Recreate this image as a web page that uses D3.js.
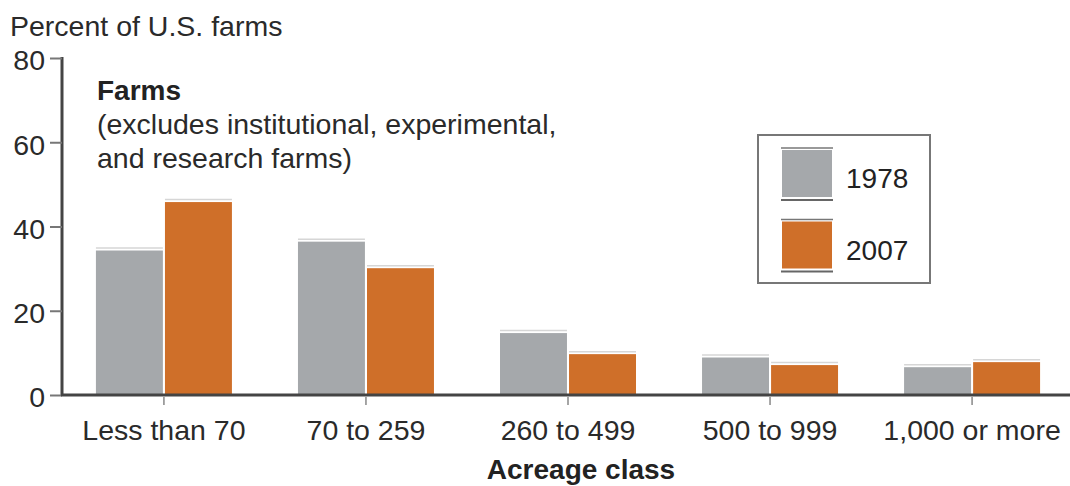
<!DOCTYPE html>
<html><head><meta charset="utf-8">
<script src="https://cdn.jsdelivr.net/npm/d3@7"></script>
<style>body{margin:0;background:#fff;} svg{display:block;font-family:"Liberation Sans",Arial,sans-serif;}</style>
</head><body>
<svg id="c" width="1070" height="486"></svg>
<script>
const categories = ["Less than 70","70 to 259","260 to 499","500 to 999","1,000 or more"];
const seriesNames = ["1978","2007"];
const values1978 = [34.3, 36.4, 14.7, 8.9, 6.6];
const values2007 = [45.8, 30.1, 9.7, 7.1, 7.8];
const yTicks = [0,20,40,60,80];
const colors = {"1978":"#a5a8ab","2007":"#cf6f29"};

const svg = d3.select("#c");
const y = d3.scaleLinear().domain([0,80]).range([395,58]);
const x = d3.scaleBand().domain(categories).range([62.9,1073.1]).padding(0);
const xs = d3.scaleBand().domain(seriesNames).range([0,136]).paddingInner(0.03);
const data = categories.map((c,i)=>({cat:c, vals:[{s:"1978",v:values1978[i]},{s:"2007",v:values2007[i]}]}));

// bars
const g = svg.append("g");
data.forEach(d=>{
  const off = x(d.cat)+x.bandwidth()/2-68;
  d.vals.forEach(b=>{
    g.append("line").attr("x1",off+xs(b.s)).attr("x2",off+xs(b.s)+xs.bandwidth())
      .attr("y1",y(b.v)-2.5).attr("y2",y(b.v)-2.5).attr("stroke","#d6d6d6").attr("stroke-width",1.5);
    g.append("rect").attr("x",off+xs(b.s)).attr("width",xs.bandwidth())
      .attr("y",y(b.v)).attr("height",y(0)-y(b.v)).attr("fill",colors[b.s]);
  });
});

// y axis
const ya = svg.append("g").attr("transform","translate(62,0)")
  .call(d3.axisLeft(y).tickValues(yTicks).tickSize(12).tickPadding(5));
ya.select(".domain").attr("stroke","#444").attr("stroke-width",3).attr("d","M0,57V396");
ya.selectAll(".tick line").attr("stroke","#777").attr("stroke-width",2);
ya.selectAll(".tick text").attr("font-size",28.5).attr("fill","#2a2a2a").attr("dy","0.42em").attr("font-family","Liberation Sans, Arial");

// x axis
const xa = svg.append("g").attr("transform","translate(0,395)")
  .call(d3.axisBottom(x).tickSize(10).tickPadding(15));
xa.select(".domain").attr("stroke","#444").attr("stroke-width",3).attr("d","M61,0H1070");
xa.selectAll(".tick line").attr("stroke","#888").attr("stroke-width",1.5).attr("y1",2);
xa.selectAll(".tick text").attr("font-size",28.5).attr("fill","#2a2a2a").attr("font-family","Liberation Sans, Arial");

// titles
svg.append("text").attr("x",10).attr("y",36).attr("font-size",28.5).attr("fill","#2a2a2a").text("Percent of U.S. farms");
svg.append("text").attr("x",97).attr("y",100).attr("font-size",28).attr("font-weight","bold").attr("fill","#222").text("Farms");
svg.append("text").attr("x",97).attr("y",134).attr("font-size",28.5).attr("fill","#2a2a2a").text("(excludes institutional, experimental,");
svg.append("text").attr("x",97).attr("y",168).attr("font-size",28.5).attr("fill","#2a2a2a").text("and research farms)");
svg.append("text").attr("x",581).attr("y",479).attr("text-anchor","middle").attr("font-size",28).attr("font-weight","bold").attr("fill","#222").text("Acreage class");

// legend
const lg = svg.append("g");
lg.append("rect").attr("x",758).attr("y",135).attr("width",172).attr("height",148).attr("fill","#fff").attr("stroke","#777").attr("stroke-width",2);
seriesNames.forEach((s,i)=>{
  const yy = 150 + i*71.5;
  lg.append("rect").attr("x",782).attr("y",yy).attr("width",50).attr("height",47).attr("fill",colors[s]);
  lg.append("line").attr("x1",781).attr("x2",833).attr("y1",yy-2).attr("y2",yy-2).attr("stroke","#777").attr("stroke-width",1.5);
  lg.append("line").attr("x1",781).attr("x2",833).attr("y1",yy+50).attr("y2",yy+50).attr("stroke","#666").attr("stroke-width",2);
  lg.append("text").attr("x",846).attr("y",yy+38).attr("font-size",28).attr("fill","#222").text(s);
});
</script>
</body></html>
